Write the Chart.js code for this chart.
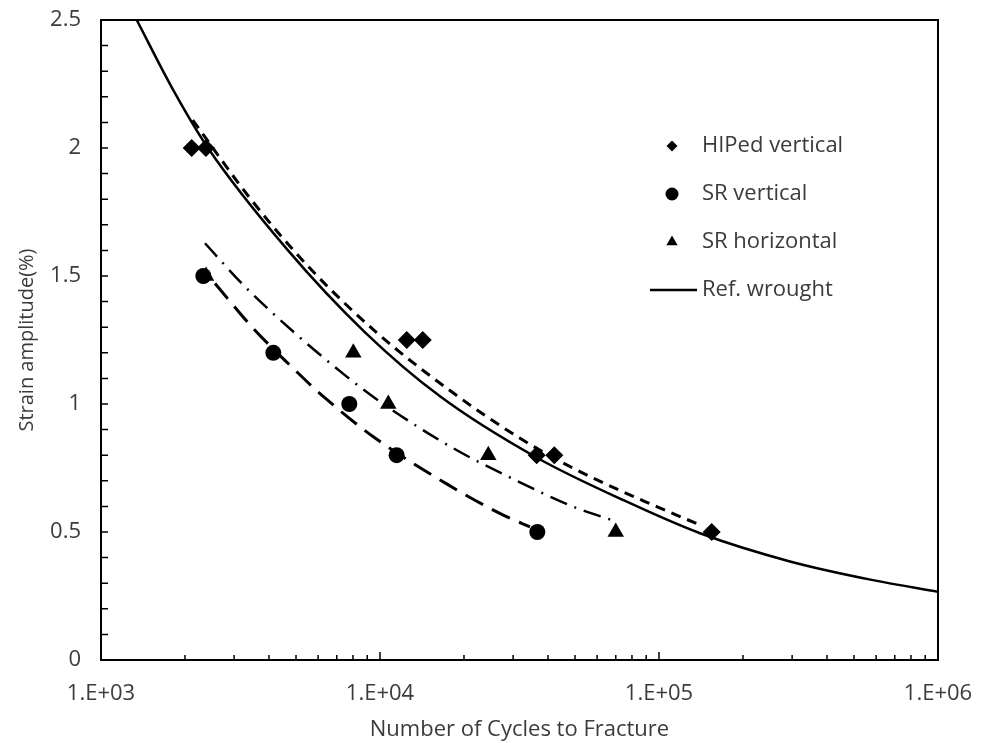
<!DOCTYPE html>
<html>
<head>
<meta charset="utf-8">
<script src="https://cdn.jsdelivr.net/npm/chart.js@4.4.1/dist/chart.umd.min.js"></script>
<style>
  html, body { margin: 0; padding: 0; background: #fff; }
  #wrap { width: 988px; height: 743px; }
</style>
</head>
<body>
<div id="wrap"><canvas id="fatigue" width="988" height="743"></canvas></div>
<script>
// Test results (cycles to fracture, strain amplitude %)
const hipedCycles = [2114, 2378, 12470, 14230, 36450, 42150, 154500];
const hipedStrain = [2, 2, 1.25, 1.25, 0.8, 0.8, 0.5];
const srVertCycles = [2327, 4146, 7762, 11470, 36630];
const srVertStrain = [1.5, 1.2, 1.0, 0.8, 0.5];
const srHorCycles = [2380, 8024, 10710, 24440, 69980];
const srHorStrain = [1.5, 1.2, 1.0, 0.8, 0.5];

// Curves
const wroughtCycles = [1343, 1797, 2418, 4680, 8837, 16410, 36530, 74300, 140300, 294800, 584800, 1000000];
const wroughtStrain = [2.5, 2.235, 2.0, 1.60, 1.28, 1.03, 0.79, 0.625, 0.495, 0.385, 0.312, 0.267];
const hipedFitCycles = [2132, 3420, 5612, 9731, 17580, 31760, 50700, 98120, 142300];
const hipedFitStrain = [2.109, 1.804, 1.530, 1.279, 1.057, 0.866, 0.742, 0.599, 0.525];
const srHorFitCycles = [2359, 3236, 4930, 7598, 10000, 18320, 29650, 49300, 70530];
const srHorFitStrain = [1.628, 1.465, 1.279, 1.107, 1.009, 0.827, 0.710, 0.599, 0.540];
const srVertFitCycles = [2563, 3469, 5029, 6181, 9463, 17580, 27670, 34480];
const srVertFitStrain = [1.471, 1.302, 1.126, 1.035, 0.872, 0.684, 0.566, 0.52];

// Axis ticks
const xTickValues = [1e3, 1e4, 1e5, 1e6];
const xTickLabels = ["1.E+03", "1.E+04", "1.E+05", "1.E+06"];
const yTickValues = [0, 0.5, 1, 1.5, 2, 2.5];
const yTickLabels = ["0", "0.5", "1", "1.5", "2", "2.5"];

const textColor = "#3b3b3b";
const fontFamily = "'Open Sans', sans-serif";

const toPoints = (xs, ys) => xs.map((x, i) => ({ x: x, y: ys[i] }));

const markerSet = (label, xs, ys, style, radius, legendRadius) => ({
  label: label,
  data: toPoints(xs, ys),
  showLine: false,
  pointStyle: style,
  pointRadius: radius,
  pointHoverRadius: radius,
  pointBackgroundColor: "#000",
  pointBorderWidth: 0,
  legendRadius: legendRadius,
  order: 0,
});

const curveSet = (label, xs, ys, width, dash) => ({
  label: label,
  data: toPoints(xs, ys),
  showLine: true,
  pointRadius: 0,
  borderColor: "#000",
  borderWidth: width,
  borderDash: dash,
  cubicInterpolationMode: "monotone",
  fill: false,
  order: 1,
});

// Box round the plot plus inward tick marks
const axisFrame = {
  id: "axisFrame",
  afterDatasetsDraw(chart) {
    const { ctx, chartArea: a, scales } = chart;
    const x = scales.x, y = scales.y;
    ctx.save();
    ctx.strokeStyle = "#000";
    ctx.lineWidth = 2;
    ctx.strokeRect(a.left, a.top, a.right - a.left, a.bottom - a.top);
    ctx.lineWidth = 1.5;
    ctx.beginPath();
    for (let i = 0; i <= 25; i++) {
      const py = y.getPixelForValue(i / 10);
      ctx.moveTo(a.left, py);
      ctx.lineTo(a.left + 7, py);
    }
    for (let d = 1e3; d < 1e6; d *= 10) {
      for (let k = 2; k <= 10; k++) {
        const px = x.getPixelForValue(d * k);
        ctx.moveTo(px, a.bottom);
        ctx.lineTo(px, a.bottom - (k === 10 ? 8 : 5));
      }
    }
    ctx.stroke();
    ctx.restore();
  },
};

// Legend drawn inside the plot, Excel style
const legendBox = {
  id: "legendBox",
  afterDraw(chart) {
    const ctx = chart.ctx;
    const markX = 672, textX = 702, gap = 48;
    let rowY = 146;
    ctx.save();
    ctx.font = "22px " + fontFamily;
    ctx.textBaseline = "middle";
    ctx.textAlign = "left";
    chart.data.datasets.forEach((ds) => {
      if (!ds.legendRadius && !ds.legendLine) return;
      ctx.fillStyle = "#000";
      if (ds.legendLine) {
        ctx.strokeStyle = "#000";
        ctx.lineWidth = ds.borderWidth;
        ctx.beginPath();
        ctx.moveTo(650, rowY);
        ctx.lineTo(697, rowY);
        ctx.stroke();
      } else {
        Chart.helpers.drawPoint(ctx, {
          pointStyle: ds.pointStyle,
          radius: ds.legendRadius,
          rotation: 0,
          borderWidth: 0,
        }, markX, rowY);
      }
      ctx.fillStyle = textColor;
      ctx.fillText(ds.label, textX, rowY);
      rowY += gap;
    });
    ctx.restore();
  },
};

const wrought = curveSet("Ref. wrought", wroughtCycles, wroughtStrain, 2.5, []);
wrought.legendLine = true;

new Chart(document.getElementById("fatigue"), {
  type: "scatter",
  data: {
    datasets: [
      markerSet("HIPed vertical", hipedCycles, hipedStrain, "rectRot", 9, 5.5),
      markerSet("SR vertical", srVertCycles, srVertStrain, "circle", 8, 6.5),
      markerSet("SR horizontal", srHorCycles, srHorStrain, "triangle", 9.5, 6.5),
      wrought,
      curveSet("HIPed fit", hipedFitCycles, hipedFitStrain, 3, [10, 7]),
      curveSet("SR horizontal fit", srHorFitCycles, srHorFitStrain, 2.5, [18, 8, 2, 8]),
      curveSet("SR vertical fit", srVertFitCycles, srVertFitStrain, 3, [20, 10]),
    ],
  },
  options: {
    responsive: false,
    animation: false,
    layout: { padding: { top: 20, right: 50, left: 0, bottom: 0 } },
    plugins: {
      legend: { display: false },
      tooltip: { enabled: false },
    },
    scales: {
      x: {
        type: "logarithmic",
        min: 1e3,
        max: 1e6,
        grid: { display: false, drawTicks: false },
        border: { display: false },
        afterBuildTicks: (s) => { s.ticks = xTickValues.map((v) => ({ value: v })); },
        afterFit: (s) => {
          s.height = 83;
          s.paddingLeft = 0;
          s.paddingRight = 0;
        },
        ticks: {
          autoSkip: false,
          maxRotation: 0,
          padding: 21,
          color: textColor,
          font: { family: fontFamily, size: 22 },
          callback: (v) => xTickLabels[xTickValues.indexOf(v)],
        },
        title: {
          display: true,
          text: "Number of Cycles to Fracture",
          color: textColor,
          font: { family: fontFamily, size: 22 },
          padding: { top: 0, bottom: 0 },
        },
      },
      y: {
        min: 0,
        max: 2.5,
        grid: { display: false, drawTicks: false },
        border: { display: false },
        afterBuildTicks: (s) => { s.ticks = yTickValues.map((v) => ({ value: v })); },
        afterFit: (s) => {
          s.width = 101;
          s.paddingTop = 0;
          s.paddingBottom = 0;
        },
        ticks: {
          padding: 20,
          color: textColor,
          font: { family: fontFamily, size: 22 },
          callback: (v) => yTickLabels[yTickValues.indexOf(v)],
        },
        title: {
          display: true,
          text: "Strain amplitude(%)",
          color: textColor,
          font: { family: fontFamily, size: 20 },
          padding: { top: 15, bottom: 0 },
        },
      },
    },
  },
  plugins: [axisFrame, legendBox],
});
</script>
</body>
</html>
